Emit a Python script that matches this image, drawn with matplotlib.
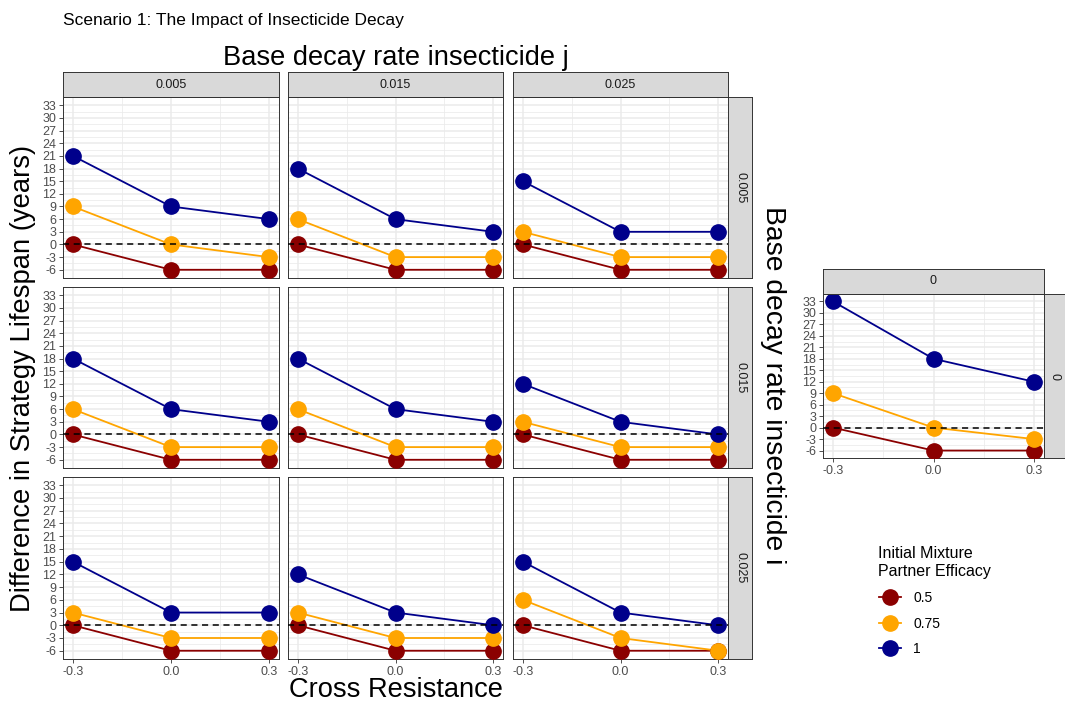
import numpy as np
import matplotlib
matplotlib.use("Agg")
import matplotlib.pyplot as plt
from matplotlib.lines import Line2D

plt.rcParams['font.family'] = ['Liberation Sans', 'DejaVu Sans']

# data
cross_res = [-0.3, 0.0, 0.3]
decay_levels = ["0.005", "0.015", "0.025"]
efficacy_labels = ["0.5", "0.75", "1"]
efficacy_colors = ["#8B0000", "#FFA500", "#00008B"]

# [row = decay i][col = decay j][cross resistance]
eff_05 = [[[0, -6, -6], [0, -6, -6], [0, -6, -6]],
          [[0, -6, -6], [0, -6, -6], [0, -6, -6]],
          [[0, -6, -6], [0, -6, -6], [0, -6, -6]]]
eff_075 = [[[9, 0, -3], [6, -3, -3], [3, -3, -3]],
           [[6, -3, -3], [6, -3, -3], [3, -3, -3]],
           [[3, -3, -3], [3, -3, -3], [6, -3, -6]]]
eff_1 = [[[21, 9, 6], [18, 6, 3], [15, 3, 3]],
         [[18, 6, 3], [18, 6, 3], [12, 3, 0]],
         [[15, 3, 3], [12, 3, 0], [15, 3, 0]]]

# no decay panel
zero_05 = [0, -6, -6]
zero_075 = [9, 0, -3]
zero_1 = [33, 18, 12]

y_breaks = np.arange(-6, 34, 3)

W, H = 1065, 705
fig = plt.figure(figsize=(W / 100, H / 100), dpi=100)

def box(x0, y0, x1, y1):
    return [x0 / W, 1 - y1 / H, (x1 - x0) / W, (y1 - y0) / H]

BORDER = "#333333"
GRIDCOL = "#EBEBEB"
TICKCOL = "#4D4D4D"

def strip(rect, label, rot=0):
    ax = fig.add_axes(rect)
    ax.set_facecolor("#D9D9D9")
    ax.set_xticks([])
    ax.set_yticks([])
    for s in ax.spines.values():
        s.set_color(BORDER)
        s.set_linewidth(0.7)
    ax.text(0.5, 0.5, label, ha="center", va="center", rotation=rot,
            fontsize=9, color="#1A1A1A", transform=ax.transAxes)
    return ax

def panel(rect, series, show_x, show_y):
    ax = fig.add_axes(rect)
    ax.set_xlim(-0.33, 0.33)
    ax.set_ylim(-7.95, 34.95)
    ax.set_xticks(cross_res)
    ax.set_xticks([-0.15, 0.15], minor=True)
    ax.set_yticks(y_breaks)
    ax.set_yticks(y_breaks[:-1] + 1.5, minor=True)
    ax.grid(True, which="major", color=GRIDCOL, lw=1.1, zorder=0)
    ax.grid(True, which="minor", color=GRIDCOL, lw=0.55, zorder=0)
    ax.set_axisbelow(True)
    for s in ax.spines.values():
        s.set_color(BORDER)
        s.set_linewidth(0.7)
    ax.tick_params(which="minor", length=0)
    ax.tick_params(which="major", length=3, color=BORDER, width=0.6,
                   labelsize=9, labelcolor=TICKCOL, pad=2)
    ax.set_xticklabels(["-0.3", "0.0", "0.3"] if show_x else [])
    ax.set_yticklabels([str(v) for v in y_breaks] if show_y else [])
    if not show_x:
        ax.tick_params(axis="x", length=0)
    if not show_y:
        ax.tick_params(axis="y", length=0)
    for vals, col in zip(series, efficacy_colors):
        ax.plot(cross_res, vals, color=col, lw=1.3, zorder=2)
        ax.plot(cross_res, vals, "o", color=col, ms=11, zorder=3)
    ax.axhline(0, color="black", ls=(0, (4, 3)), lw=1.1, zorder=4)
    return ax

col_x = [(63, 279), (288, 503), (513, 728)]
row_y = [(97, 278), (287, 468), (477, 659)]

for r in range(3):
    for c in range(3):
        x0, x1 = col_x[c]
        y0, y1 = row_y[r]
        panel(box(x0, y0, x1, y1),
              [eff_05[r][c], eff_075[r][c], eff_1[r][c]],
              show_x=(r == 2), show_y=(c == 0))
for c in range(3):
    strip(box(col_x[c][0], 72, col_x[c][1], 97), decay_levels[c])
for r in range(3):
    strip(box(728, row_y[r][0], 752, row_y[r][1]), decay_levels[r], rot=-90)

# side panel, no decay
panel(box(823, 294, 1044, 458), [zero_05, zero_075, zero_1], True, True)
strip(box(823, 269, 1044, 294), "0")
strip(box(1044, 294, 1066, 458), "0", rot=-90)

# titles
fig.text(63 / W, 1 - 20 / H, "Scenario 1: The Impact of Insecticide Decay",
         fontsize=12.5, ha="left", va="center")
fig.text(396 / W, 1 - 58 / H, "Base decay rate insecticide j",
         fontsize=19.6, ha="center", va="center")
fig.text(396 / W, 1 - 690 / H, "Cross Resistance",
         fontsize=19.6, ha="center", va="center")
fig.text(23 / W, 1 - 378 / H, "Difference in Strategy Lifespan (years)",
         fontsize=19.7, ha="center", va="center", rotation=90)
fig.text(773 / W, 1 - 385 / H, "Base decay rate insecticide i",
         fontsize=20.3, ha="center", va="center", rotation=-90)

# legend
handles = [Line2D([0], [0], color=c, lw=1.3, marker="o", ms=11)
           for c in efficacy_colors]
leg = fig.legend(handles, efficacy_labels, title="Initial Mixture\nPartner Efficacy",
                 loc="upper left", bbox_to_anchor=(866 / W, 1 - 534 / H),
                 frameon=False, fontsize=10, title_fontsize=11.5,
                 handlelength=1.6, labelspacing=0.85, handletextpad=0.9)
leg._legend_box.align = "left"

fig.savefig("out.png", dpi=100)
